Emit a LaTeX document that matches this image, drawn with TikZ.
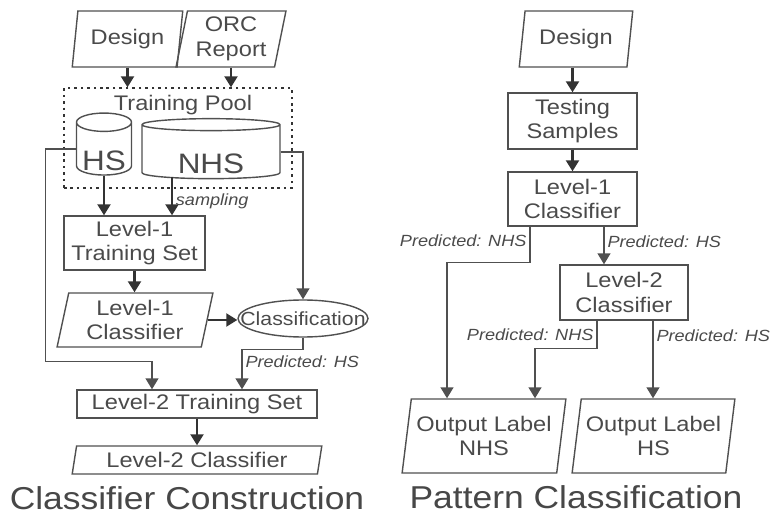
\documentclass[tikz,border=0pt]{standalone}
\usepackage{fontspec}
\setmainfont{Liberation Sans}[FakeStretch=1.12]
\usetikzlibrary{arrows.meta,positioning,shapes.geometric,calc}

\definecolor{ink}{HTML}{4A4A4A}
\definecolor{edge}{HTML}{505050}
\definecolor{dark}{HTML}{333333}
\newlength{\px}\setlength{\px}{0.025cm}

\begin{document}
\begin{tikzpicture}[
    x=\px,y=-\px,
    every node/.style={text=ink,font=\fontsize{15}{17.5}\selectfont},
    box/.style={draw=edge,line width=1pt,align=center,inner sep=0pt},
    para/.style={box,trapezium,trapezium left angle=78,trapezium right angle=102,
                 trapezium stretches=true},
    drum/.style={draw=edge,line width=1pt,cylinder,shape border rotate=90,
                 inner sep=0pt,font=\fontsize{20}{22}\selectfont},
    oval/.style={box,ellipse,inner xsep=-12pt,inner ysep=0pt,
                 font=\fontsize{13.5}{15}\selectfont},
    pool/.style={draw=dark,line width=1pt,dash pattern=on 1.8pt off 2.8pt,
                 minimum width=228\px,minimum height=100\px,inner sep=0pt},
    arr/.style={draw=dark,line width=1.6pt,-{Triangle[width=9.2pt,length=7.8pt]}},
    line/.style={draw=edge,line width=1pt,-{Triangle[width=9.2pt,length=7.8pt]}},
    lbl/.style={font=\fontsize{11.5}{13}\selectfont\itshape,inner sep=2pt},
    title/.style={font=\fontsize{22.5}{26}\selectfont,text=dark!90},
]
\useasboundingbox (0,0) rectangle (774,517);

% ---- Classifier construction ---------------------------------------------
\node[para,minimum width=111\px,minimum height=56\px] (dsgnA) at (127.5,39) {Design};
\node[para,minimum width=110\px,minimum height=56\px] (orc) at (231,39) {ORC\\Report};

\node[pool] (pool) at (178,138) {};
\node (pooltxt) at (183,105) {Training Pool};
\node[drum,minimum width=55\px,minimum height=62\px,aspect=0.42] (hs) at (104,149)
    {\raisebox{-15pt}[0pt][0pt]{HS}};
\node[drum,minimum width=138\px,minimum height=60\px,aspect=0.18] (nhs) at (211,152)
    {\raisebox{-15pt}[0pt][0pt]{NHS}};

\node[box,minimum width=141\px,minimum height=54\px] (lonets) at (134.5,243)
    {Level-1\\Training Set};
\node[para,minimum width=156\px,minimum height=54\px] (lonec) at (135,320)
    {Level-1\\Classifier};
\node[oval,minimum width=130\px,minimum height=37\px] (cls) at (303,318.5)
    {Classification};
\node[box,minimum width=240\px,minimum height=28\px] (ltwots) at (197,404)
    {Level-2 Training Set};
\node[para,minimum width=250\px,minimum height=28\px] (ltwoc) at (197,460)
    {Level-2 Classifier};
\node[title] (ttlA) at (187,498) {Classifier Construction};

% ---- Pattern classification ----------------------------------------------
\node[para,minimum width=114\px,minimum height=56\px] (dsgnB) at (576,39) {Design};
\node[box,minimum width=129\px,minimum height=56\px] (tests) at (572.5,121)
    {Testing\\Samples};
\node[box,minimum width=129\px,minimum height=54\px] (ronec) at (572.5,199)
    {Level-1\\Classifier};
\node[box,minimum width=128\px,minimum height=55\px] (rtwoc) at (624,292.5)
    {Level-2\\Classifier};
\node[para,minimum width=164\px,minimum height=74\px] (outn) at (484,436)
    {Output Label\\NHS};
\node[para,minimum width=163\px,minimum height=74\px] (outh) at (653.5,436)
    {Output Label\\HS};
\node[title] (ttlB) at (576,497) {Pattern Classification};

% ---- Arrows: construction ------------------------------------------------
\draw[arr] (dsgnA.south) -- (dsgnA.south |- pool.north);
\draw[arr] (orc.south) -- (orc.south |- pool.north);
\draw[arr] (hs.south) -- (hs.south |- lonets.north);
\draw[arr] ([shift={(-39\px,2\px)}]nhs.south) -- ([xshift=-39\px]nhs.south |- lonets.north)
    node[lbl,pos=0.62,right] {sampling};
\draw[line] (hs.west) -- ++(-30,0) |- ([shift={(-45\px,28\px)}]ltwots.north)
    -- ([xshift=-45\px]ltwots.north);
\draw[line] (nhs.east) -| (cls.north);
\draw[arr] (lonets.south) -- (lonets.south |- lonec.north);
\draw[arr] (lonec.east) -- (lonec.east -| cls.west);
\draw[line] (cls.south) -- ++(0,12) -| ([xshift=45\px]ltwots.north)
    node[lbl,pos=0.65,right] {Predicted: HS};
\draw[arr] (ltwots.south) -- (ltwots.south |- ltwoc.north);

% ---- Arrows: classification ----------------------------------------------
\draw[arr] (tests.north |- dsgnB.south) -- (tests.north);
\draw[arr] (tests.south) -- (ronec.north);
\draw[line] ([xshift=-42.5\px]ronec.south) -- node[lbl,pos=0.4,left] {Predicted: NHS}
    ++(0,36) -| ([xshift=-37\px]outn.north);
\draw[line] ([xshift=31.5\px]ronec.south) -- ([xshift=31.5\px]ronec.south |- rtwoc.north)
    node[lbl,pos=0.4,right] {Predicted: HS};
\draw[line] ([xshift=-27\px]rtwoc.south) -- node[lbl,pos=0.5,left] {Predicted: NHS}
    ++(0,28) -| ([xshift=51\px]outn.north);
\draw[line] ([xshift=29\px]rtwoc.south) -- ([xshift=29\px]rtwoc.south |- outh.north)
    node[lbl,pos=0.19,right] {Predicted: HS};

\end{tikzpicture}
\end{document}
